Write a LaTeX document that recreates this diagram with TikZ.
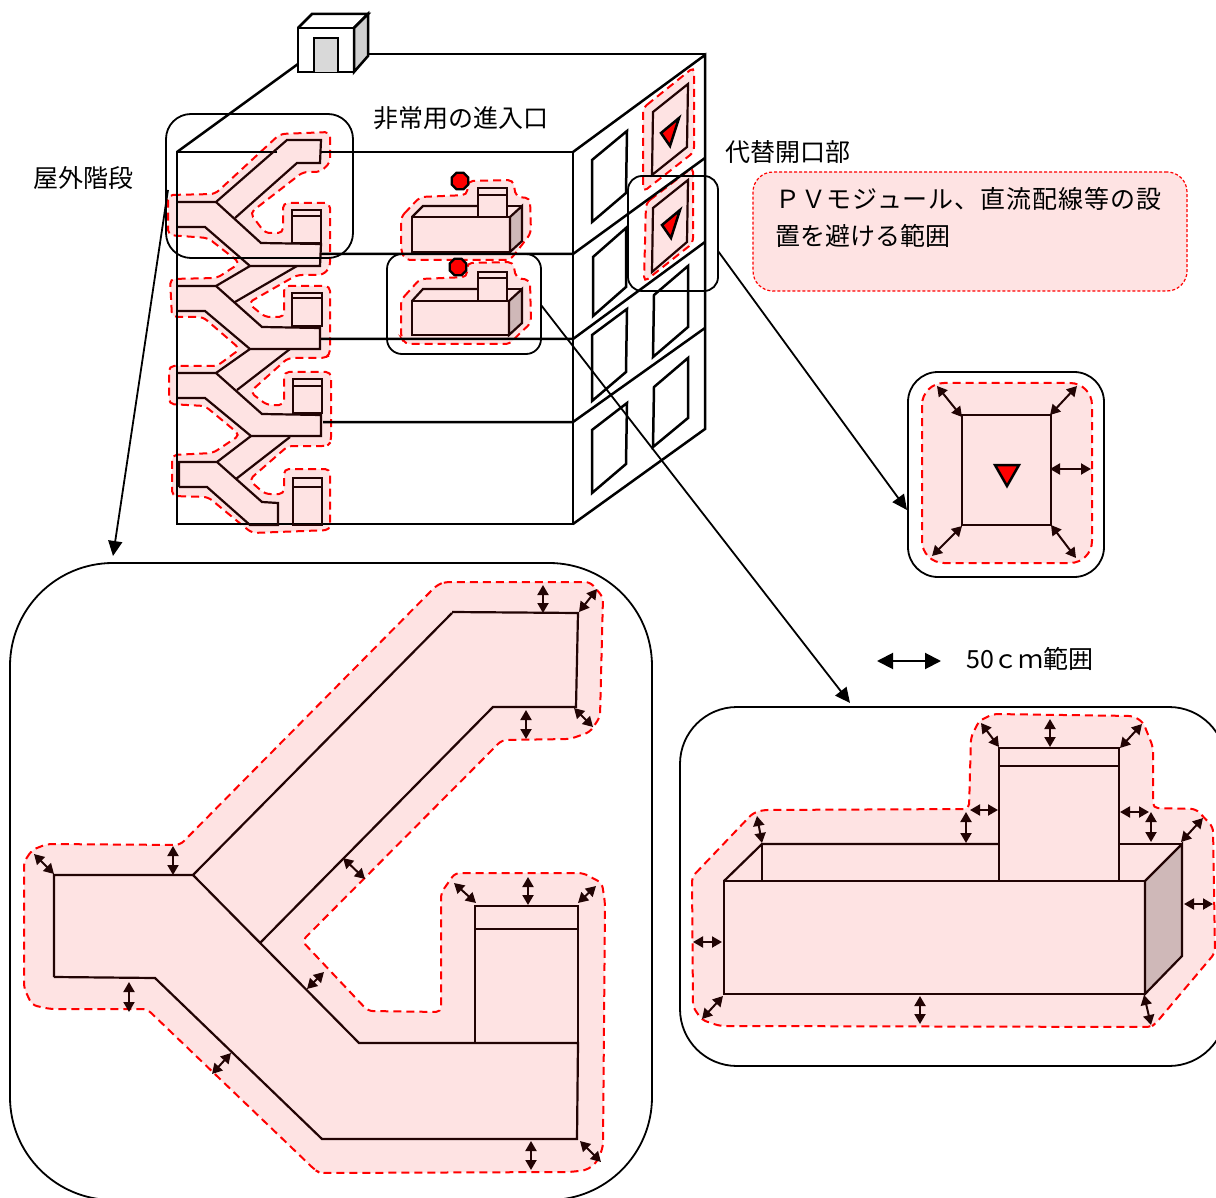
\documentclass[tikz,border=0pt]{standalone}
\usepackage{fontspec}
\setmainfont{Noto Sans CJK JP}
\newfontfamily\widecjk[LetterSpace=3.6]{Noto Sans CJK JP}
\usetikzlibrary{arrows.meta,shapes.geometric}
\definecolor{zonepink}{HTML}{FEE3E3}
\definecolor{darkline}{HTML}{220404}
\definecolor{sidepink}{HTML}{CFB8B8}
\tikzset{
	label/.style={font=\fontsize{25}{37}\selectfont,inner sep=0pt},
	wall/.style={line width=2.5pt,black},
	part/.style={line width=2.2pt,darkline},
	zone/.style={fill=zonepink,draw=red,line width=2pt,dash pattern=on 8pt off 5pt,rounded corners=5pt},
	callbox/.style={draw=black,line width=1.8pt,inner sep=0pt,fill=none},
	callarrow/.style={line width=1.8pt,-{Triangle[length=15pt,width=14pt]}},
	gap/.style={line width=2pt,darkline,{Triangle[length=10pt,width=11pt]}-{Triangle[length=10pt,width=11pt]}},
	reddot/.style={regular polygon,regular polygon sides=8,minimum size=18pt,inner sep=0pt,fill=red,draw=black,line width=2.2pt},
}
\begin{document}
\begin{tikzpicture}[x=1pt,y=-1pt]
				\useasboundingbox (0,0) rectangle (1216,1198);
				\clip (0,0) rectangle (1216,1198);

				% pink zones on the building
				\draw[zone] (168,195) -- (215,194) -- (280,134) -- (330,132) -- (330,163) -- (320,172) -- (303,172) -- (250,213) -- (265,233) -- (283,233) -- (283,203) -- (330,203) -- (330,267) -- (323,275) -- (297,275)
					-- (248,303) -- (265,317) -- (284,317) -- (284,286) -- (330,286) -- (330,355) -- (325,358) -- (288,358) -- (250,392) -- (267,405) -- (284,405) -- (284,372) -- (331,372) -- (331,442) -- (327,446) -- (288,446)
					-- (249,480) -- (265,494) -- (284,494) -- (284,469) -- (330,469) -- (330,530) -- (252,533) -- (242,525) -- (208,497) -- (172,496) -- (172,455) -- (213,453) -- (240,435) -- (205,406) -- (169,404) -- (169,366)
					-- (217,366) -- (240,349) -- (203,317) -- (172,317) -- (170,279) -- (217,278) -- (240,263) -- (208,238) -- (168,235) -- cycle;
				\draw[zone] (401,217) -- (420,197) -- (467,195) -- (468,181) -- (513,180) -- (516,197) -- (530,198) -- (531,233) -- (518,250) -- (510,260) -- (405,260) -- (401,250) -- cycle;
				\draw[zone] (401,300) -- (420,279) -- (467,277) -- (467,263) -- (513,262) -- (516,278) -- (530,280) -- (531,323) -- (518,335) -- (510,344) -- (405,344) -- (401,337) -- cycle;
				\draw[zone] (643,108) -- (694,67) -- (694,152) -- (643,192) -- cycle;
				\draw[zone] (646,203) -- (693,167) -- (693,243) -- (644,282) -- cycle;

				% building
				\draw[wall] (277,152) -- (177,152) -- (177,524) -- (573,524) -- (573,152) -- (321,152);
				\draw[wall] (573,152) -- (705,55) -- (705,429) -- (573,524);
				\draw[wall] (320,254) -- (573,254) -- (705,158);
				\draw[wall] (321,339) -- (573,339) -- (705,242);
				\draw[wall] (323,422) -- (573,422) -- (705,328);
				\draw[wall] (177,152) -- (298,64);
				\draw[wall] (368,54) -- (705,54);

				% roof hut
				\draw[wall,fill=white] (298,28) rectangle (354,72);
				\draw[wall] (298,28) -- (312,14) -- (368,14) -- (354,28);
				\draw[wall,fill=black!19] (354,28) -- (368,14) -- (368,56) -- (354,72) -- cycle;
				\draw[wall,fill=black!15] (314,72) -- (314,38) -- (338,38) -- (338,72);

				% side windows
				\draw[wall] (592,160) -- (627,131) -- (626,193) -- (592,222) -- cycle;
				\draw[wall] (593,257) -- (626,228) -- (626,287) -- (593,316) -- cycle;
				\draw[wall] (592,335) -- (627,309) -- (626,372) -- (592,401) -- cycle;
				\draw[wall] (592,430) -- (627,403) -- (626,464) -- (592,493) -- cycle;
				\draw[part] (653,112) -- (688,84) -- (687,147) -- (652,175) -- cycle;
				\draw[part] (653,208) -- (688,180) -- (687,242) -- (652,272) -- cycle;
				\draw[wall] (654,295) -- (688,266) -- (688,327) -- (653,357) -- cycle;
				\draw[wall] (654,387) -- (688,358) -- (688,418) -- (653,447) -- cycle;
				\draw[wall,fill=red] (661,133) -- (679,118) -- (670,146) -- cycle;
				\draw[wall,fill=red] (662,225) -- (680,210) -- (671,238) -- cycle;

				% outside stairs
				\draw[part] (178,202) -- (216,202) -- (287,140) -- (321,140) -- (320,163) -- (297,163) -- (235,218);
				\draw[part] (216,202) -- (261,243) -- (321,244) -- (320,266) -- (250,266) -- (205,227) -- (178,227);
				\draw[part] (178,286) -- (216,286) -- (250,266);
				\draw[part] (235,302) -- (297,266);
				\draw[part] (216,286) -- (262,327) -- (320,328) -- (320,349) -- (250,349) -- (205,311) -- (178,311);
				\draw[part] (178,373) -- (216,373) -- (250,349);
				\draw[part] (237,390) -- (290,349);
				\draw[part] (216,373) -- (262,414) -- (321,415) -- (321,436) -- (251,436) -- (205,398) -- (178,398);
				\draw[part] (179,487) -- (179,462) -- (217,462) -- (251,436);
				\draw[part] (236,479) -- (290,437);
				\draw[part] (217,462) -- (262,502) -- (278,503) -- (278,525) -- (250,525) -- (207,487) -- (179,487);
				\draw[part] (292,210) rectangle (321,243);
				\draw[part] (292,216) -- (321,216);
				\draw[part] (292,293) rectangle (322,326);
				\draw[part] (292,298) -- (322,298);
				\draw[part] (293,379) rectangle (322,413);
				\draw[part] (293,386) -- (322,386);
				\draw[part] (293,478) rectangle (322,525);
				\draw[part] (293,487) -- (322,487);

				% entrance blocks
				\draw[part] (412,217) rectangle (510,252);
				\draw[part,fill=sidepink] (510,217) -- (522,206) -- (522,241) -- (510,252) -- cycle;
				\draw[part] (412,217) -- (423,206) -- (478,206);
				\draw[part] (507,206) -- (522,206);
				\draw[part,fill=zonepink] (478,188) rectangle (507,217);
				\draw[part] (478,195) -- (507,195);
				\draw[part] (412,301) rectangle (509,335);
				\draw[part,fill=sidepink] (509,301) -- (522,289) -- (522,323) -- (509,335) -- cycle;
				\draw[part] (412,301) -- (423,289) -- (478,289);
				\draw[part] (507,289) -- (522,289);
				\draw[part,fill=zonepink] (478,272) rectangle (507,301);
				\draw[part] (478,278) -- (507,278);
				\node[reddot] (dotupper) at (460,181) {};
				\node[reddot] (dotlower) at (458,267) {};

				% small frames on the building
				\node[callbox,rounded corners=25pt,minimum width=187pt,minimum height=144pt] (stairframe) at (259.5,186) {};
				\node[callbox,rounded corners=15pt,minimum width=154pt,minimum height=100pt] (doorframe) at (464,304) {};
				\node[callbox,rounded corners=14pt,minimum width=90pt,minimum height=115pt] (windowframe) at (673,233.5) {};

				% large frames
				\node[callbox,rounded corners=103pt,minimum width=642pt,minimum height=637pt] (stairzoom) at (331,881.5) {};
				\node[callbox,rounded corners=57pt,minimum width=546pt,minimum height=359pt] (doorzoom) at (953,886.5) {};
				\node[callbox,rounded corners=30pt,minimum width=196pt,minimum height=205pt] (windowzoom) at (1006,474.5) {};

				% frame to frame
				\coordinate (stairfrom) at (168,190);
				\coordinate (stairto) at (113,556);
				\coordinate (doorfrom) at (541,305);
				\coordinate (doorto) at (850,703);
				\coordinate (windowfrom) at (718,251);
				\coordinate (windowto) at (907,510);
				\draw[callarrow] (stairfrom) -- (stairto);
				\draw[callarrow] (doorfrom) -- (doorto);
				\draw[callarrow] (windowfrom) -- (windowto);

				% enlarged opening
				\draw[zone,rounded corners=22pt] (922,383) rectangle (1092,563);
				\draw[part] (962,415) rectangle (1051,525);
				\draw[wall,fill=red] (995,465) -- (1019,465) -- (1007,486) -- cycle;
				\draw[gap] (937,386) -- (962,417);
				\draw[gap] (1077,386) -- (1050,415);
				\draw[gap] (1050,469) -- (1091,469);
				\draw[gap] (962,526) -- (932,556);
				\draw[gap] (1051,525) -- (1076,558);

				% enlarged stairs
				\draw[zone] (24,862) -- (32,850) -- (47,844) -- (180,845) -- (437,585) -- (445,582) -- (590,582) -- (603,597) -- (600,717) -- (590,732) -- (570,739) -- (502,740) -- (302,941) -- (368,1011) -- (441,1012) -- (441,893) -- (455,873) -- (583,873) -- (602,883) -- (605,903) -- (603,1147) -- (597,1162) -- (587,1170) -- (570,1172) -- (320,1173) -- (315,1170) -- (147,1009) -- (50,1009) -- (32,1005) -- (24,988) -- cycle;
				\draw[part] (54,977) -- (54,875) -- (193,875) -- (452,613);
				\draw[part] (452,612) -- (578,613) -- (576,707) -- (493,707) -- (260,943);
				\draw[part] (193,875) -- (359,1043) -- (578,1043) -- (577,1139) -- (322,1139) -- (155,978) -- (54,977);
				\draw[part] (475,906) rectangle (578,1043);
				\draw[part] (475,929) -- (578,929);
				\draw[gap] (34,854) -- (54,874);
				\draw[gap] (173,846) -- (173,875);
				\draw[gap] (543,585) -- (543,613);
				\draw[gap] (597,589) -- (579,612);
				\draw[gap] (574,708) -- (593,727);
				\draw[gap] (526,710) -- (526,739);
				\draw[gap] (343,858) -- (365,879);
				\draw[gap] (454,883) -- (476,903);
				\draw[gap] (528,877) -- (528,905);
				\draw[gap] (596,886) -- (578,903);
				\draw[gap] (580,1141) -- (601,1162);
				\draw[gap] (531,1141) -- (531,1170);
				\draw[gap] (129,982) -- (129,1012);
				\draw[gap] (231,1053) -- (212,1074);
				\draw[gap] (324,972) -- (307,989);

				% enlarged entrance
				\draw[zone] (692,877) -- (753,813) -- (763,810) -- (969,809) -- (971,737) -- (979,721) -- (993,714) -- (1133,716) -- (1143,722) -- (1153,747) -- (1153,808) -- (1196,809) -- (1213,827) -- (1215,953) -- (1156,1023) -- (1151,1027) -- (720,1026) -- (702,1020) -- (693,1007) -- cycle;
				\draw[part] (724,881) rectangle (1145,994);
				\draw[part,fill=sidepink] (1145,881) -- (1182,844) -- (1182,956) -- (1145,994) -- cycle;
				\draw[part] (724,881) -- (762,844) -- (999,844);
				\draw[part] (762,844) -- (762,881);
				\draw[part] (1119,844) -- (1182,844);
				\draw[part] (999,748) rectangle (1119,881);
				\draw[part] (999,766) -- (1119,766);
				\draw[gap] (757,816) -- (762,843);
				\draw[gap] (693,942) -- (722,942);
				\draw[gap] (723,996) -- (702,1019);
				\draw[gap] (920,996) -- (920,1024);
				\draw[gap] (966,812) -- (966,843);
				\draw[gap] (970,810) -- (998,810);
				\draw[gap] (981,723) -- (999,747);
				\draw[gap] (1050,719) -- (1050,747);
				\draw[gap] (1142,724) -- (1120,748);
				\draw[gap] (1120,812) -- (1149,812);
				\draw[gap] (1151,812) -- (1151,842);
				\draw[gap] (1203,818) -- (1181,842);
				\draw[gap] (1184,904) -- (1213,904);
				\draw[gap] (1144,995) -- (1151,1025);

				% legend
				\node[zone,rounded corners=20pt,line width=1.2pt,dash pattern=on 3pt off 2pt,minimum width=434pt,minimum height=119pt,inner sep=0pt] (pvzone) at (970,231.5) {};
				\node[label,anchor=north west,align=left] (pvtext) at (775,187) {{\widecjk ＰＶモジュール、直流配線等の設}\\置を避ける範囲};
				\coordinate (legendleft) at (877,661);
				\coordinate (legendright) at (941,661);
				\draw[line width=2pt,{Triangle[length=16pt,width=16pt]}-{Triangle[length=16pt,width=16pt]}] (legendleft) -- (legendright);
				\node[label] (legendtext) at (1030,659) {50ｃｍ範囲};
				\node[label] (entrancetext) at (460.5,118) {非常用の進入口};
				\node[label] (stairtext) at (84,178) {屋外階段};
				\node[label] (windowtext) at (787.5,152) {代替開口部};
			\end{tikzpicture}
\end{document}
